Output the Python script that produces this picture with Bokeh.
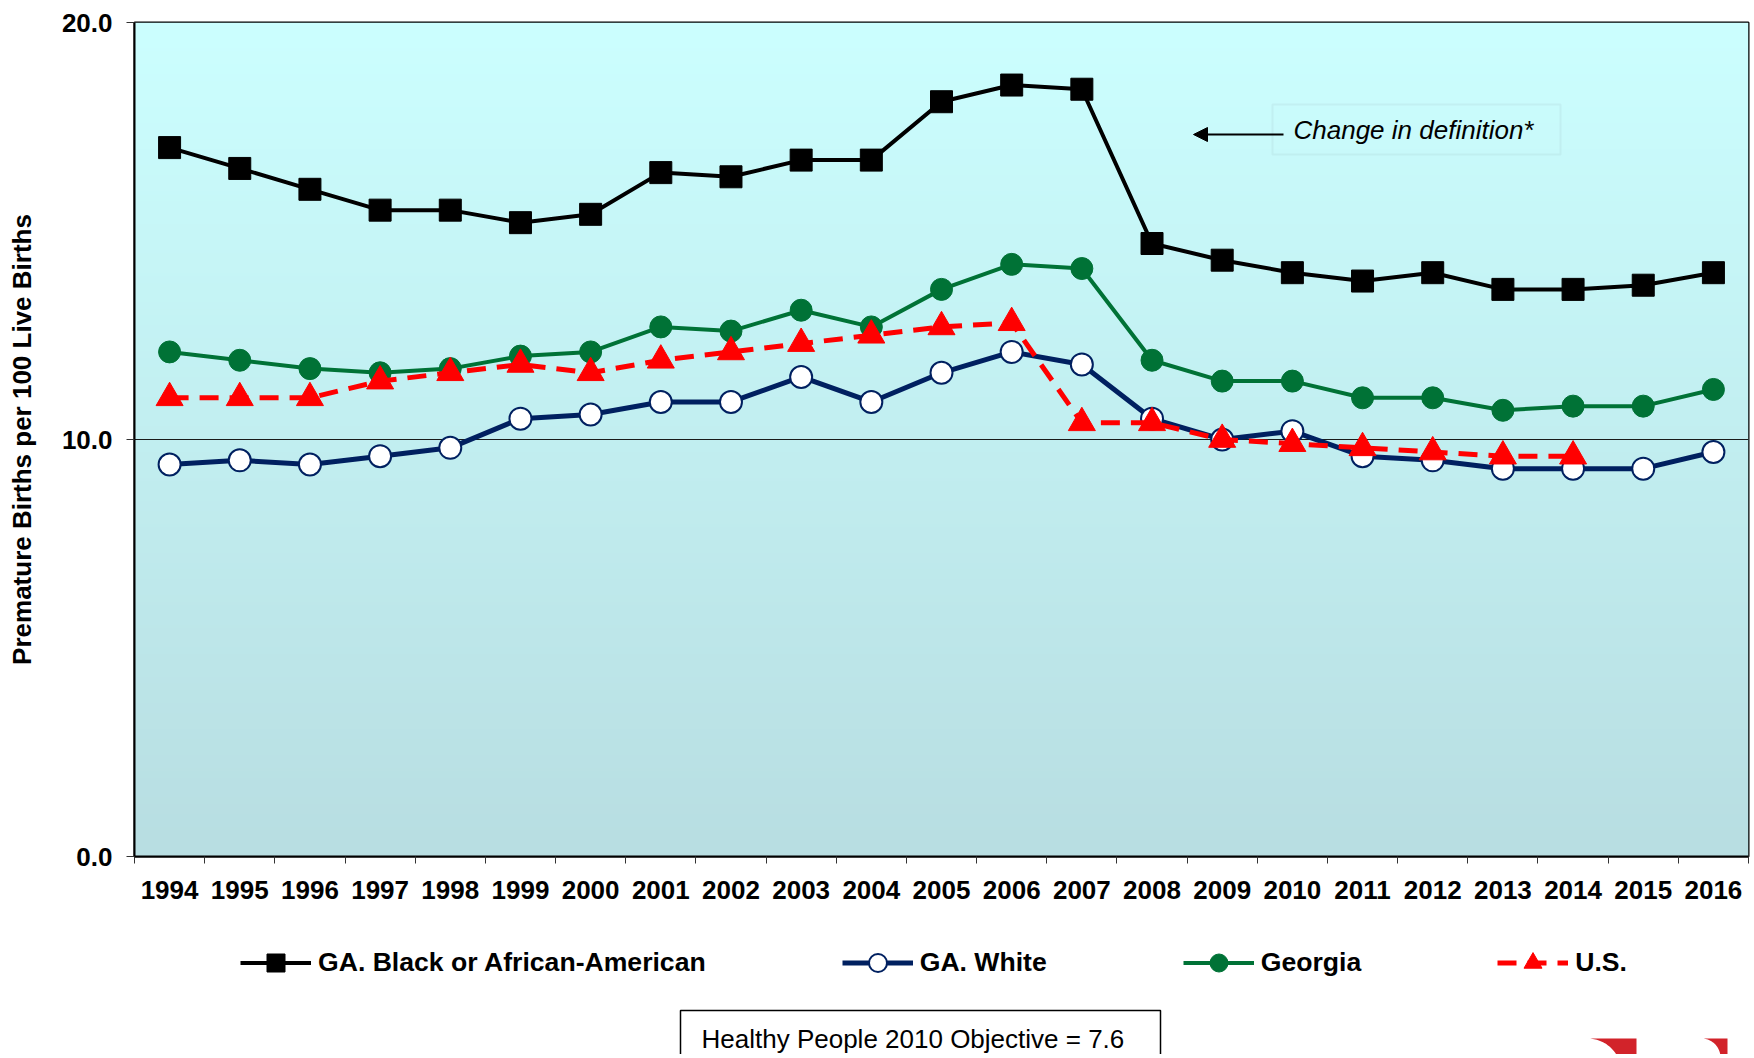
import numpy as np
from bokeh.plotting import figure
from bokeh.layouts import column
from bokeh.models import (Range1d, FixedTicker, PrintfTickFormatter, Legend, LegendItem,
                          BoxAnnotation, Label, Arrow, NormalHead)
from bokeh.core.properties import value
from bokeh.embed import file_html
from bokeh.resources import INLINE

# ---------------- data ----------------
years = list(range(1994, 2017))
ga_black = [17.0, 16.5, 16.0, 15.5, 15.5, 15.2, 15.4, 16.4, 16.3, 16.7, 16.7, 18.1,
            18.5, 18.4, 14.7, 14.3, 14.0, 13.8, 14.0, 13.6, 13.6, 13.7, 14.0]
ga_white = [9.4, 9.5, 9.4, 9.6, 9.8, 10.5, 10.6, 10.9, 10.9, 11.5, 10.9, 11.6,
            12.1, 11.8, 10.5, 10.0, 10.2, 9.6, 9.5, 9.3, 9.3, 9.3, 9.7]
georgia = [12.1, 11.9, 11.7, 11.6, 11.7, 12.0, 12.1, 12.7, 12.6, 13.1, 12.7, 13.6,
           14.2, 14.1, 11.9, 11.4, 11.4, 11.0, 11.0, 10.7, 10.8, 10.8, 11.2]
us_years = list(range(1994, 2015))
us = [11.0, 11.0, 11.0, 11.4, 11.6, 11.8, 11.6, 11.9, 12.1, 12.3, 12.5, 12.7,
      12.8, 10.4, 10.4, 10.0, 9.9, 9.8, 9.7, 9.6, 9.6]
y_ticks = [0, 10, 20]
y_title = "Premature Births per 100 Live Births"
labels = ["GA. Black or African-American", "GA. White", "Georgia", "U.S."]
objective_text = "Healthy People 2010 Objective = 7.6"
note_text = "Change in definition*"

FONT = "Liberation Sans"
BLACK, NAVY, GREEN, RED = "#000000", "#002060", "#007236", "#FF0000"

W = 1750
MAIN_H = 930
FOOT_H = 124
FL, FR, FB = 134, 2, 856  # frame left, right border, frame bottom (page px)

# ---------------- main figure ----------------
p = figure(width=W, height=MAIN_H, output_backend="svg", toolbar_location=None,
           x_range=Range1d(years[0] - 0.5, years[-1] + 0.5), y_range=Range1d(0, 20),
           min_border_left=FL, min_border_right=FR, min_border_top=22,
           min_border_bottom=MAIN_H - FB,
           background_fill_color="#C6F0F2", border_fill_color="white")
p.outline_line_color = "black"
p.outline_line_width = 2

# gradient background of the plot area
n = 256
t = np.linspace(0.0, 1.0, n)[:, None]
top_c = np.array([204, 255, 255])
bot_c = np.array([184, 222, 226])
cols = (bot_c + (top_c - bot_c) * t).astype(np.uint8)
img = np.zeros((n, 1), dtype=np.uint32)
view = img.view(dtype=np.uint8).reshape((n, 1, 4))
view[:, 0, 0] = cols[:, 0]
view[:, 0, 1] = cols[:, 1]
view[:, 0, 2] = cols[:, 2]
view[:, 0, 3] = 255
p.image_rgba(image=[img], x=years[0] - 0.5, y=0, dw=len(years), dh=20, level="image")

# grid: only the 10.0 line
p.xgrid.visible = False
p.ygrid.ticker = FixedTicker(ticks=[10])
p.ygrid.grid_line_color = "#1a1a1a"
p.ygrid.grid_line_width = 1

# x axis
xa = p.xaxis[0]
xa.ticker = FixedTicker(ticks=years, minor_ticks=[y - 0.5 for y in years] + [years[-1] + 0.5])
xa.formatter = PrintfTickFormatter(format="%d")
xa.major_tick_line_color = None
xa.major_tick_out = 0
xa.major_tick_in = 0
xa.minor_tick_in = 0
xa.minor_tick_out = 7
xa.minor_tick_line_color = "#333333"
xa.minor_tick_line_width = 1
xa.major_label_standoff = 17
xa.major_label_text_font = FONT
xa.major_label_text_font_style = "bold"
xa.major_label_text_font_size = "26px"
xa.major_label_text_color = "black"
xa.axis_line_width = 2
xa.axis_line_color = "black"

# y axis
ya = p.yaxis[0]
ya.ticker = FixedTicker(ticks=y_ticks, minor_ticks=[])
ya.formatter = PrintfTickFormatter(format="%.1f")
ya.major_tick_out = 8
ya.major_tick_in = 0
ya.major_tick_line_color = "#333333"
ya.minor_tick_line_color = None
ya.major_label_standoff = 14
ya.major_label_text_font = FONT
ya.major_label_text_font_style = "bold"
ya.major_label_text_font_size = "26px"
ya.major_label_text_color = "black"
ya.axis_line_width = 2
ya.axis_line_color = "black"
ya.axis_label = y_title
ya.axis_label_text_font = FONT
ya.axis_label_text_font_style = "bold"
ya.axis_label_text_font_size = "26px"
ya.axis_label_text_color = "black"
ya.axis_label_standoff = 22

# ---------------- series ----------------
STYLE = {
    "black": dict(line=dict(line_color=BLACK, line_width=4),
                  marker=dict(marker="square", fill_color=BLACK, line_color=BLACK)),
    "white": dict(line=dict(line_color=NAVY, line_width=5),
                  marker=dict(marker="circle", fill_color="white", line_color=NAVY, line_width=2)),
    "green": dict(line=dict(line_color=GREEN, line_width=4),
                  marker=dict(marker="circle", fill_color=GREEN, line_color=GREEN)),
    "us": dict(line=dict(line_color=RED, line_width=5, line_dash="19 11"),
               marker=dict(marker="triangle", fill_color=RED, line_color=RED)),
}

p.line(years, ga_black, **STYLE["black"]["line"])
p.scatter(years, ga_black, size=22, **STYLE["black"]["marker"])
p.line(years, georgia, **STYLE["green"]["line"])
p.scatter(years, georgia, size=22, **STYLE["green"]["marker"])
p.line(years, ga_white, **STYLE["white"]["line"])
p.scatter(years, ga_white, size=22, **STYLE["white"]["marker"])
p.line(us_years, us, **STYLE["us"]["line"])
p.scatter(us_years, us, size=27, **STYLE["us"]["marker"])


def sx(X):
    return X - FL


def sy(Y):
    return FB - Y


# "Change in definition*" box, text and arrow (inside the plot area)
p.add_layout(BoxAnnotation(left=sx(1272), right=sx(1560), top=sy(104), bottom=sy(154),
                           left_units="screen", right_units="screen",
                           top_units="screen", bottom_units="screen",
                           fill_alpha=0, line_color="#AFD6DA", line_width=2))
p.add_layout(Label(x=sx(1293), y=sy(129), x_units="screen", y_units="screen", text=note_text,
                   text_font=FONT, text_font_style="italic", text_font_size="26px",
                   text_baseline="middle", text_color="black"))
p.add_layout(Arrow(x_start=sx(1283), y_start=sy(134), x_end=sx(1193), y_end=sy(134),
                   start_units="screen", end_units="screen", line_width=2, line_color="black",
                   end=NormalHead(size=14, fill_color="black", line_color="black")))

# ---------------- footer (legend, objective box, logo) ----------------
f = figure(width=W, height=FOOT_H, output_backend="svg", toolbar_location=None,
           x_range=Range1d(FL, W - FR), y_range=Range1d(FOOT_H, 0),
           min_border_left=FL, min_border_right=FR, min_border_top=0, min_border_bottom=0,
           x_axis_location=None, y_axis_location=None,
           background_fill_color="white", border_fill_color="white")
f.outline_line_color = None
f.grid.visible = False
Y0 = MAIN_H  # page y of the footer's top

# legend swatches: placeholder renderers (a single NaN point, so nothing is drawn)
nan = np.array([np.nan])
items = []
for key, lab in zip(["black", "white", "green", "us"], labels):
    lr = f.line(x=nan, y=nan, **STYLE[key]["line"])
    mr = f.scatter(x=nan, y=nan, **STYLE[key]["marker"])
    items.append(LegendItem(label=lab, renderers=[lr, mr]))

legend = Legend(items=items, orientation="horizontal",
                location=(240 - FL, FOOT_H - (962 - Y0) - 22.5), spacing=136, glyph_width=71,
                glyph_height=45, label_standoff=7, padding=0, margin=0,
                label_text_font=FONT, label_text_font_style="bold",
                label_text_font_size="26.6px",
                label_text_color="black", border_line_color=None, background_fill_alpha=0)
f.add_layout(legend)

# objective box (its lower edge runs off the page, as in the original)
f.quad(left=[680], right=[1160], top=[1010 - Y0], bottom=[1080 - Y0],
       fill_color="white", line_color="black", line_width=1.5)
f.text(x=[701], y=[1038 - Y0], text=[objective_text], text_font=value(FONT),
       text_font_size="26px", text_baseline="middle", text_color="black")


# red logo fragments at the bottom-right
def arc_shape(cx, cy, r, a0, a1, tail):
    ang = np.radians(np.linspace(a0, a1, 30))
    xs = list(cx + r * np.cos(ang)) + [q[0] for q in tail]
    ys = list(cy + r * np.sin(ang)) + [q[1] for q in tail]
    return xs, [v - Y0 for v in ys]


xs1, ys1 = arc_shape(1587, 1072, 34, -90, -24, [(1636, 1070), (1636, 1038)])
xs2, ys2 = arc_shape(1701, 1057, 19, -90, 5, [(1727, 1070), (1727, 1038)])
f.patches(xs=[xs1, xs2], ys=[ys1, ys2], fill_color="#D2232A", line_color=None)

layout = column(p, f, spacing=0)
open("out.html", "w").write(file_html(layout, INLINE))
